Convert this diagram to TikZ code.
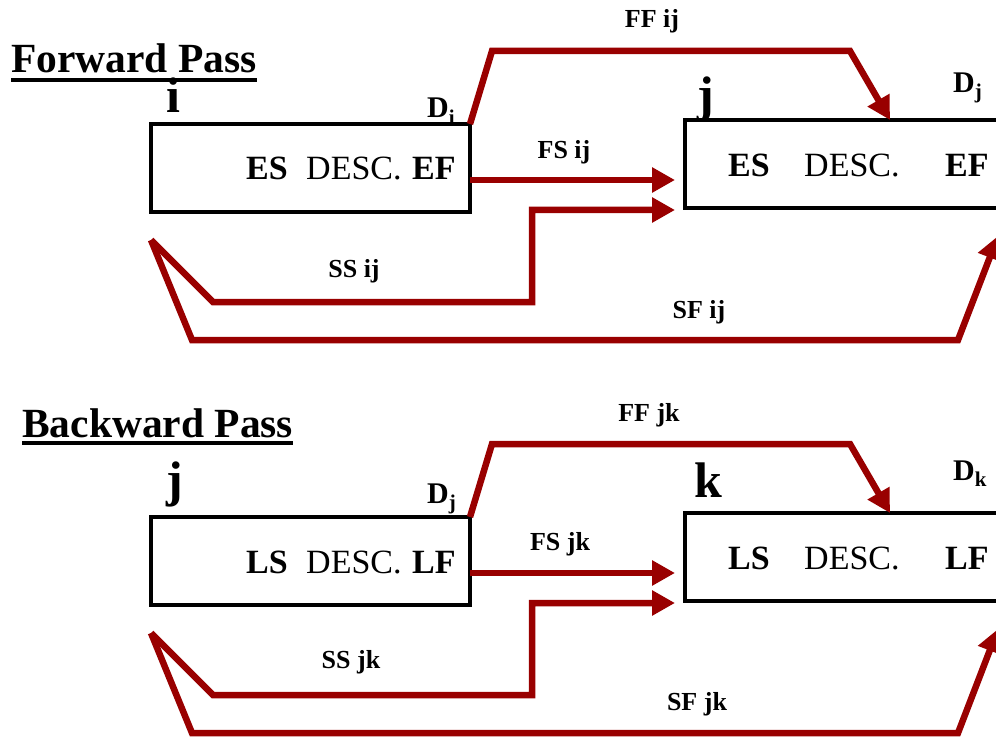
\documentclass[tikz,border=0pt]{standalone}
\usepackage{fontspec}
\setmainfont{Liberation Serif}
\usetikzlibrary{arrows.meta}
\definecolor{linkred}{HTML}{990000}

\tikzset{
  actbox/.style={draw=black, line width=4pt, rectangle, outer sep=0pt, inner sep=0pt,
    minimum width=319pt, minimum height=88pt, anchor=north west},
  link/.style={linkred, line width=6.5pt, -{Triangle[length=23pt,width=24pt]}},
  lbl/.style={anchor=base, inner sep=0pt, font=\fontsize{26}{26}\selectfont\bfseries},
  title/.style={anchor=base west, inner sep=0pt, font=\fontsize{41.5}{42}\selectfont\bfseries},
  letter/.style={anchor=base west, inner sep=0pt, font=\fontsize{50}{50}\selectfont\bfseries},
  dur/.style={anchor=base west, inner sep=0pt, font=\fontsize{30}{30}\selectfont\bfseries},
  field/.style={anchor=base west, inner sep=0pt, font=\fontsize{34}{34}\selectfont},
}

\begin{document}
\begin{tikzpicture}[x=1pt,y=-1pt]
  \useasboundingbox (0,0) rectangle (996,738);
  \clip (0,0) rectangle (996,738);

  % forward pass
  \node[title] (fwd) at (11,73) {Forward Pass};
  \draw[line width=4pt] ([yshift=-7pt]fwd.base west) -- ([yshift=-7pt]fwd.base east);
  \node[letter] (li) at (166,113) {i};
  \node[letter] (lj) at (697,112) {j};
  \node[dur] (di) at (427,118) {D\textsubscript{i}};
  \node[dur] (dj) at (953,93) {D\textsubscript{j}};
  \node[actbox] (boxi) at (151,124) {};
  \node[actbox] (boxj) at (685,120) {};
  \node[field] (esi) at (246,180) {\textbf{ES}};
  \node[field] (desci) at (306,180) {DESC.};
  \node[field] (efi) at (412,180) {\textbf{EF}};
  \node[field] (esj) at (728,177) {\textbf{ES}};
  \node[field] (descj) at (804,177) {DESC.};
  \node[field] (efj) at (945,177) {\textbf{EF}};

  \draw[link] (boxi.north east) -- (492,51) -- (850,51) -- (boxj.north -| 890,0);
  \draw[link, shorten >=10pt] (boxi.east |- 0,180) -- (boxj.west |- 0,180);
  \draw[link, shorten >=10pt] ([yshift=-28pt]boxi.south west) -- (213,302) -- (532,302)
    -- (532,210) -- (boxj.west |- 0,210);
  \draw[link] ([yshift=-28pt]boxi.south west) -- (192,340) -- (958,340) -- (998,236);
  \node[lbl] (ffij) at (652,28) {FF ij};
  \node[lbl] (fsij) at (564,159) {FS ij};
  \node[lbl] (ssij) at (354,277) {SS ij};
  \node[lbl] (sfij) at (699,318) {SF ij};

  % backward pass
  \node[title] (bwd) at (22,437) {Backward Pass};
  \draw[line width=4pt] ([yshift=-6pt]bwd.base west) -- ([yshift=-6pt]bwd.base east);
  \node[letter] (ljb) at (166,496) {j};
  \node[letter] (lk) at (694,497) {k};
  \node[dur] (djb) at (427,503) {D\textsubscript{j}};
  \node[dur] (dk) at (953,480) {D\textsubscript{k}};
  \node[actbox] (boxjb) at (151,517) {};
  \node[actbox] (boxk) at (685,513) {};
  \node[field] (lsj) at (246,573) {\textbf{LS}};
  \node[field] (descjb) at (306,573) {DESC.};
  \node[field] (lfj) at (412,573) {\textbf{LF}};
  \node[field] (lsk) at (728,569) {\textbf{LS}};
  \node[field] (desck) at (804,569) {DESC.};
  \node[field] (lfk) at (945,569) {\textbf{LF}};

  \draw[link] (boxjb.north east) -- (492,444) -- (850,444) -- (boxk.north -| 890,0);
  \draw[link, shorten >=10pt] (boxjb.east |- 0,573) -- (boxk.west |- 0,573);
  \draw[link, shorten >=10pt] ([yshift=-28pt]boxjb.south west) -- (213,695) -- (532,695)
    -- (532,603) -- (boxk.west |- 0,603);
  \draw[link] ([yshift=-28pt]boxjb.south west) -- (192,733) -- (958,733) -- (998,629);
  \node[lbl] (ffjk) at (649,421) {FF jk};
  \node[lbl] (fsjk) at (560,550) {FS jk};
  \node[lbl] (ssjk) at (351,668) {SS jk};
  \node[lbl] (sfjk) at (697,710) {SF jk};
\end{tikzpicture}
\end{document}
